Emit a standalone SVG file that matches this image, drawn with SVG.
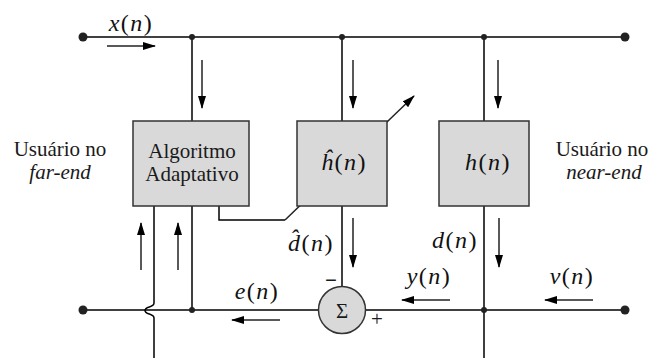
<svg xmlns="http://www.w3.org/2000/svg" width="659" height="358" viewBox="0 0 659 358">
<defs>
<marker id="ah" markerWidth="13" markerHeight="9" refX="12" refY="4.5" orient="auto" markerUnits="userSpaceOnUse">
<path d="M0,0.5 L13,4.5 L0,8.5 z" fill="#000"/>
</marker>
<style>
.ln{stroke:#000;stroke-width:1.5;fill:none}
.bus{stroke:#404040;stroke-width:2;fill:none}
.ar{stroke:#222;stroke-width:1.5;fill:none;marker-end:url(#ah)}
.box{fill:#d9d9d9;stroke:#333;stroke-width:1.5}
.t{font-size:21px;fill:#1a1a1a}
.m{font-size:24px;letter-spacing:1.5px;fill:#111}
.i{font-style:italic}
.dot{fill:#222}
</style>
</defs>
<g id="connectors">
<line class="bus" x1="83" y1="37" x2="625" y2="37"/>
<line class="ln" x1="83" y1="310" x2="625" y2="310"/>
<line class="ln" x1="192" y1="37" x2="192" y2="121"/>
<line class="ln" x1="192" y1="206" x2="192" y2="310"/>
<line class="ln" x1="342" y1="37" x2="342" y2="121"/>
<line class="ln" x1="342" y1="206" x2="342" y2="287"/>
<line class="ln" x1="484" y1="37" x2="484" y2="121"/>
<line class="ln" x1="484" y1="206" x2="484" y2="358"/>
<path class="ln" d="M154,206 V303 C154,308 145,306 145,310.5 C145,315 154,313 154,318 V358"/>
<path class="ln" d="M219,206 V220 H285"/>
<line class="ar" x1="285" y1="220" x2="414" y2="96"/>
<line class="ar" x1="107" y1="46" x2="155" y2="46"/>
<line class="ar" x1="202" y1="60" x2="202" y2="108"/>
<line class="ar" x1="353" y1="60" x2="353" y2="108"/>
<line class="ar" x1="498" y1="60" x2="498" y2="108"/>
<line class="ar" x1="353" y1="218" x2="353" y2="267"/>
<line class="ar" x1="499" y1="218" x2="499" y2="267"/>
<line class="ar" x1="141" y1="270" x2="141" y2="223"/>
<line class="ar" x1="178" y1="270" x2="178" y2="223"/>
<line class="ar" x1="450" y1="300" x2="402" y2="300"/>
<line class="ar" x1="593" y1="300" x2="545" y2="300"/>
<line class="ar" x1="280" y1="320" x2="232" y2="320"/>
<circle class="dot" cx="83" cy="37" r="4.5"/>
<circle class="dot" cx="625" cy="37" r="4.5"/>
<circle class="dot" cx="83" cy="310" r="4.5"/>
<circle class="dot" cx="625" cy="310" r="4.5"/>
<circle class="dot" cx="192" cy="37" r="3"/>
<circle class="dot" cx="342" cy="37" r="3"/>
<circle class="dot" cx="484" cy="37" r="3"/>
<circle class="dot" cx="192" cy="310" r="3"/>
<circle class="dot" cx="484" cy="310" r="3"/>
</g>
<g id="algoritmo">
<rect class="box" x="133" y="121" width="116" height="85"/>
<text class="t" font-family="Liberation Serif" x="192" y="158" text-anchor="middle">Algoritmo</text>
<text class="t" font-family="Liberation Serif" x="192" y="181" text-anchor="middle">Adaptativo</text>
</g>
<g id="hhat">
<rect class="box" x="297" y="121" width="90" height="85"/>
<text class="m" font-family="Liberation Serif" x="344" y="170" text-anchor="middle"><tspan class="i">ĥ</tspan>(<tspan class="i">n</tspan>)</text>
</g>
<g id="h">
<rect class="box" x="439" y="121" width="90" height="85"/>
<text class="m" font-family="Liberation Serif" x="488" y="170" text-anchor="middle"><tspan class="i">h</tspan>(<tspan class="i">n</tspan>)</text>
</g>
<g id="sum">
<circle class="box" cx="342" cy="310" r="23.5"/>
<text class="t" font-family="Liberation Serif" font-size="22" x="342" y="318" text-anchor="middle">Σ</text>
<text class="t" font-family="Liberation Serif" x="331" y="287" text-anchor="middle" font-weight="bold">−</text>
<text class="t" font-family="Liberation Serif" x="377" y="326" text-anchor="middle" font-size="16">+</text>
</g>
<g id="labels">
<text class="m" font-family="Liberation Serif" x="131" y="31" text-anchor="middle"><tspan class="i">x</tspan>(<tspan class="i">n</tspan>)</text>
<text class="m" font-family="Liberation Serif" x="311" y="251" text-anchor="middle"><tspan class="i">d̂</tspan>(<tspan class="i">n</tspan>)</text>
<text class="m" font-family="Liberation Serif" x="455" y="248" text-anchor="middle"><tspan class="i">d</tspan>(<tspan class="i">n</tspan>)</text>
<text class="m" font-family="Liberation Serif" x="429" y="284" text-anchor="middle"><tspan class="i">y</tspan>(<tspan class="i">n</tspan>)</text>
<text class="m" font-family="Liberation Serif" x="572" y="284" text-anchor="middle"><tspan class="i">v</tspan>(<tspan class="i">n</tspan>)</text>
<text class="m" font-family="Liberation Serif" x="257" y="299" text-anchor="middle"><tspan class="i">e</tspan>(<tspan class="i">n</tspan>)</text>
<text class="t" font-family="Liberation Serif" x="60" y="156" text-anchor="middle">Usuário no</text>
<text class="t i" font-family="Liberation Serif" x="60" y="179" text-anchor="middle">far-end</text>
<text class="t" font-family="Liberation Serif" x="602" y="156" text-anchor="middle">Usuário no</text>
<text class="t i" font-family="Liberation Serif" x="604" y="179" text-anchor="middle">near-end</text>
</g>
</svg>
